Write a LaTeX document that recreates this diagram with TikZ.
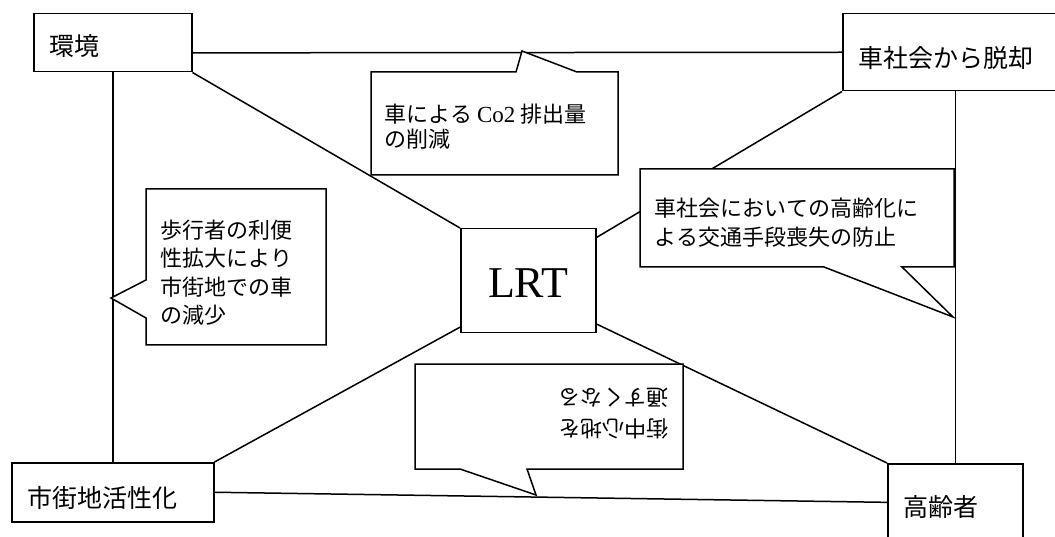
\documentclass[tikz,border=0pt]{standalone}
\usepackage{fontspec}
\setmainfont{Noto Sans CJK JP}
\newfontfamily\lat{Liberation Serif}
\usetikzlibrary{calc}
\begin{document}
\begin{tikzpicture}[x=1pt,y=-1pt,line width=1.5pt,
  box/.style={draw,fill=white,inner sep=0pt,anchor=north west},
  lbl/.style={inner sep=0pt,anchor=base west,font=\fontsize{25}{30}\selectfont},
  ctext/.style={inner sep=0pt,anchor=base west,align=left},
  callout/.style={draw,fill=white,line join=miter}]
\useasboundingbox (0,0) rectangle (1055,537);

% boxes
\node[box,minimum width=158pt,minimum height=58pt] (env) at (33,13) {};
\node[box,minimum width=233pt,minimum height=77pt] (car) at (842,13) {};
\node[box,minimum width=202pt,minimum height=59pt] (city) at (11,462) {};
\node[box,minimum width=135pt,minimum height=90pt] (old) at (887,463) {};
\node[box,minimum width=135pt,minimum height=104pt,text height=34pt,
      font=\lat\fontsize{44}{44}\selectfont] (lrt) at (460,228) {LRT};

% labels
\node[lbl] (envt) at ($(env.west)+(16,13)$) {環境};
\node[lbl] (cart) at ($(car.west)+(16,15)$) {車社会から脱却};
\node[lbl] (cityt) at ($(city.west)+(16,15)$) {市街地活性化};
\node[lbl] (oldt) at (903,516) {高齢者};

% connectors
\draw ($(env.north east)!0.67!(env.south east)$) -- (car.west);
\draw (env.south) -- (city.north);
\draw (old.north |- car.south) -- (old.north);
\draw (city.east) -- ($(old.north west)!0.43!(old.south west)$);
\draw (env.south east) -- (lrt.north west);
\draw ($(lrt.south west)!0.06!(lrt.north west)$) -- (city.north east);
\draw ($(lrt.north east)!0.09!(lrt.south east)$) -- (car.south west);
\draw ($(lrt.south east)!0.09!(lrt.north east)$) -- (old.north west);

% callouts
\draw[callout] (371,72) -- (516,72) -- (522,51) -- (577,72) -- (618,72)
  -- (618,175) -- (371,175) -- cycle;
\node[ctext,font=\fontsize{22}{25}\selectfont] (c1) at (384,148)
  {車による {\lat\fontsize{23}{25}\selectfont Co2} 排出量\\の削減};

\draw[callout] (146,189) -- (326,189) -- (326,345) -- (146,345) -- (146,318)
  -- (111,298) -- (146,280) -- cycle;
\node[ctext,font=\fontsize{22}{28.5}\selectfont] (c2) at (160,323.9)
  {歩行者の利便\\性拡大により\\市街地での車\\の減少};

\draw[callout] (640,169) -- (954,169) -- (954,267) -- (902,267) -- (953,317)
  -- (824,267) -- (640,267) -- cycle;
\node[ctext,font=\fontsize{22}{29}\selectfont] (c3) at (654,245.4)
  {車社会においての高齢化に\\よる交通手段喪失の防止};

\draw[callout] (415,364) -- (683,364) -- (683,469) -- (527,469) -- (536,495)
  -- (460,469) -- (415,469) -- cycle;
\node[inner sep=0pt,align=left,rotate=180,font=\fontsize{22}{31}\selectfont]
  (c4) at (613.5,413.5) {街中心地を\\通すくなる};
\end{tikzpicture}
\end{document}
